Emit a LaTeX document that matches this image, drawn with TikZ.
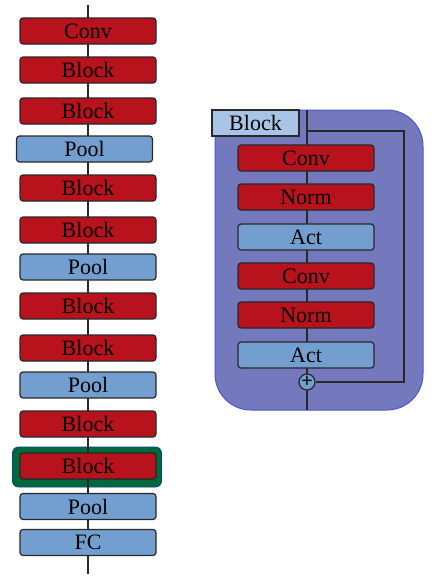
\documentclass[tikz,border=0pt]{standalone}
\usepackage{fontspec}
\setmainfont{Liberation Serif}
\usepackage{tikz}
\usetikzlibrary{positioning, calc}

\definecolor{blockred}{RGB}{184,18,28}
\definecolor{poolblue}{RGB}{114,159,207}
\definecolor{panelblue}{RGB}{116,120,188}
\definecolor{labelblue}{RGB}{168,196,230}
\definecolor{hlgreen}{RGB}{0,104,60}
\definecolor{edgegray}{RGB}{40,40,40}

\tikzset{
    layer/.style={draw=edgegray, line width=0.6pt, rounded corners=1.5pt,
        minimum width=68pt, minimum height=13pt, inner sep=0pt,
        font=\fontsize{11}{13}\selectfont},
    redbox/.style={layer, fill=blockred},
    bluebox/.style={layer, fill=poolblue},
}

\begin{document}
\begin{tikzpicture}[x=0.5pt, y=-0.5pt]
    \useasboundingbox (0,0) rectangle (440,579);

    % highlighted block
    \node[fill=hlgreen, draw=hlgreen!70!blue, rounded corners=3pt,
        minimum width=74.5pt, minimum height=20pt] (hl) at (87,467) {};

    % backbone line
    \coordinate (in) at (88,5);
    \coordinate (out) at (88,574);
    \draw[edgegray, line width=0.6pt] (in) -- (out);

    \node[redbox] (conv) at (88,31) {Conv};
    \node[redbox] (b1) at (88,70) {Block};
    \node[redbox] (b2) at (88,111) {Block};
    \node[bluebox] (p1) at (84.5,149) {Pool};
    \node[redbox] (b3) at (88,188) {Block};
    \node[redbox] (b4) at (88,230) {Block};
    \node[bluebox] (p2) at (88,267) {Pool};
    \node[redbox] (b5) at (88,306) {Block};
    \node[redbox] (b6) at (88,348) {Block};
    \node[bluebox] (p3) at (88,385) {Pool};
    \node[redbox] (b7) at (88,424) {Block};
    \node[redbox] (b8) at (88,466) {Block};
    \node[bluebox] (p4) at (88,506.5) {Pool};
    \node[bluebox] (fc) at (88,542.5) {FC};

    % block detail
    \fill[panelblue, draw=panelblue!70!blue, line width=0.5pt, rounded corners=18pt]
        (215,110) -- (215,410) -- (423,410) -- (423,110) -- (215,110);

    \coordinate (rin) at (307,110);
    \coordinate (split) at (307,131);
    \coordinate (rout) at (307,410);
    \coordinate (skip) at (404,382);
    \draw[edgegray, line width=0.6pt] (rin) -- (rout);

    \node[layer, fill=labelblue, rounded corners=0pt, minimum width=43.5pt]
        (title) at (255.5,123) {Block};

    \node[redbox] (rc1) at (306,158) {Conv};
    \node[redbox] (rn1) at (306,197) {Norm};
    \node[bluebox] (ra1) at (306,237) {Act};
    \node[redbox] (rc2) at (306,276) {Conv};
    \node[redbox] (rn2) at (306,315) {Norm};
    \node[bluebox] (ra2) at (306,355) {Act};
    \node[circle, draw=edgegray, fill=poolblue, line width=0.6pt,
        minimum size=8pt, inner sep=0pt, font=\fontsize{10}{10}\selectfont\bfseries]
        (add) at (307,382) {+};

    \draw[edgegray, line width=0.6pt] (split) -| (skip) -- (add);
\end{tikzpicture}
\end{document}
